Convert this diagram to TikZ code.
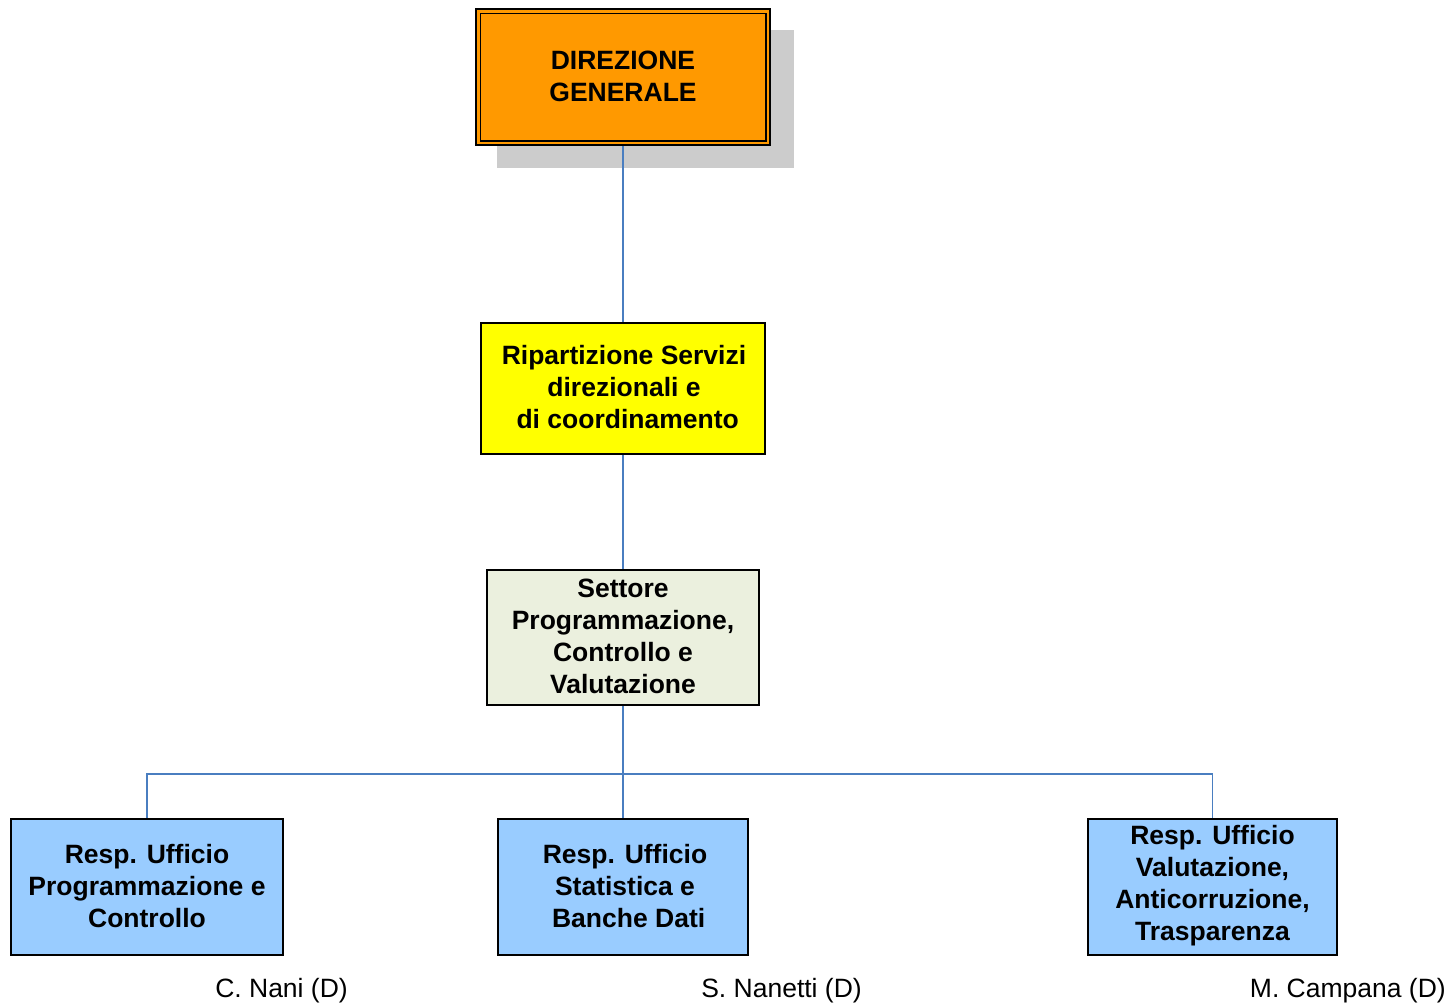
\documentclass[tikz,border=0pt]{standalone}
\usepackage{fontspec}
\setmainfont{Liberation Sans}
\definecolor{orgfill}{HTML}{FF9900}
\definecolor{yelfill}{HTML}{FFFF00}
\definecolor{setfill}{HTML}{EBF0DE}
\definecolor{bluefill}{HTML}{99CCFF}
\definecolor{conn}{HTML}{4A7EC0}
\definecolor{shadowgray}{HTML}{CCCCCC}
\tikzset{
  orgbox/.style={draw=black, line width=1.6pt, inner sep=0pt, align=center,
    font=\fontsize{26.5}{32}\selectfont\bfseries},
  boxtext/.style={inner sep=0pt, align=center, font=\fontsize{26.5}{32}\selectfont\bfseries},
  conline/.style={draw=conn, line width=1.6pt},
  namelabel/.style={inner sep=0pt, anchor=east, font=\fontsize{26.5}{32}\selectfont}
}
\begin{document}
\begin{tikzpicture}[x=1pt,y=-1pt]
\useasboundingbox (0,0) rectangle (1451,1004);
% shadow
\fill[shadowgray] (497,30) rectangle (794,168);
% nodes
\node[orgbox, fill=orgfill, minimum width=294pt, minimum height=136pt] (dg) at (623,77) {};
\draw[line width=1.4pt] ([shift={(5,5)}]dg.north west) rectangle ([shift={(-5,-5)}]dg.south east);
\node[boxtext] (dgt) at (623,76) {DIREZIONE\\GENERALE};
\node[orgbox, fill=yelfill, minimum width=284pt, minimum height=131pt] (rip) at (623,388.5) {};
\node[boxtext] (ript) at (624,387.5) {Ripartizione Servizi\\direzionali e\\\ di coordinamento};
\node[orgbox, fill=setfill, minimum width=272pt, minimum height=135pt] (set) at (623,637.5) {};
\node[boxtext] (sett) at (623,636.5) {Settore\\Programmazione,\\Controllo e\\Valutazione};
\node[orgbox, fill=bluefill, minimum width=272pt, minimum height=136pt] (ua) at (147,887) {};
\node[boxtext] (uat) at (147,886) {Resp. Ufficio\\Programmazione e\\Controllo};
\node[orgbox, fill=bluefill, minimum width=250pt, minimum height=136pt] (ub) at (623,887) {};
\node[boxtext] (ubt) at (625,886) {Resp. Ufficio\\Statistica e\\\ Banche Dati};
\node[orgbox, fill=bluefill, minimum width=249pt, minimum height=136pt] (uc) at (1212.5,887) {};
\node[boxtext] (uct) at (1212.5,886) {Resp. Ufficio\\Valutazione,\\Anticorruzione,\\Trasparenza};
% connectors
\coordinate (j) at (623,774);
\draw[conline] (dg.south) -- (rip.north);
\draw[conline] (rip.south) -- (set.north);
\draw[conline] (set.south) -- (ub.north);
\draw[conline] (j) -| (ua.north);
\draw[conline] (j) -| (uc.north);
% names
\node[namelabel] (na) at (348,990.5) {C. Nani (D)};
\node[namelabel] (nb) at (862,990.5) {S. Nanetti (D)};
\node[namelabel] (nc) at (1446,990.5) {M. Campana (D)};
\end{tikzpicture}
\end{document}
